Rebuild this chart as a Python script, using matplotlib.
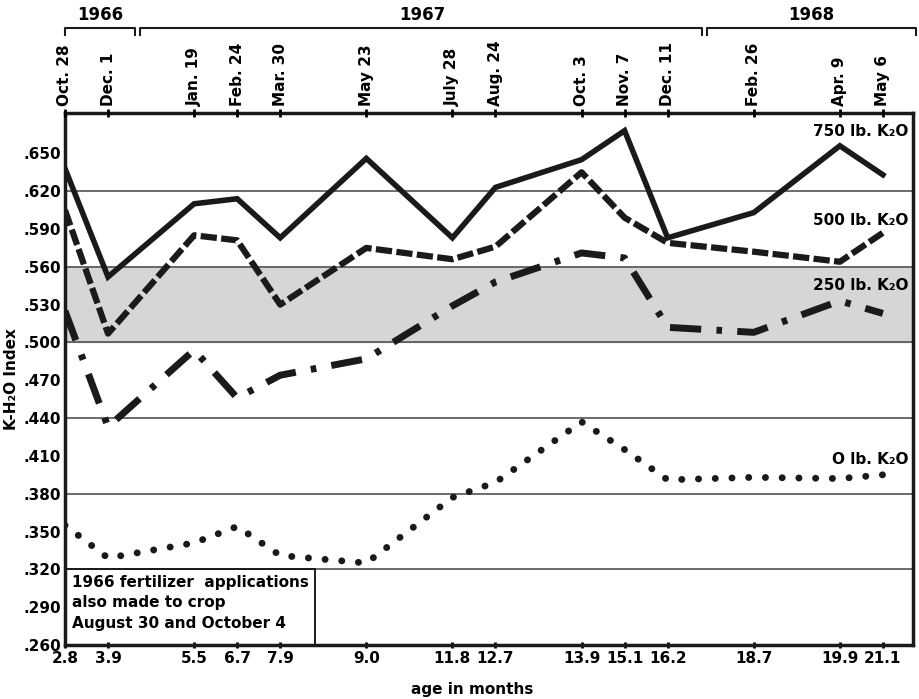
import matplotlib.pyplot as plt
from matplotlib.patches import Rectangle
from matplotlib.transforms import blended_transform_factory

# posiciones de muestreo (espaciado del original, no lineal en edad)
slots = [0, 1, 3, 4, 5, 7, 9, 10, 12, 13, 14, 16, 18, 19]
edad = ['2.8', '3.9', '5.5', '6.7', '7.9', '9.0', '11.8', '12.7',
        '13.9', '15.1', '16.2', '18.7', '19.9', '21.1']
fechas = ['Oct. 28', 'Dec. 1', 'Jan. 19', 'Feb. 24', 'Mar. 30', 'May 23',
          'July 28', 'Aug. 24', 'Oct. 3', 'Nov. 7', 'Dec. 11', 'Feb. 26',
          'Apr. 9', 'May 6']

k750 = [0.638, 0.552, 0.610, 0.614, 0.583, 0.646, 0.583, 0.623,
        0.645, 0.668, 0.583, 0.603, 0.656, 0.633]
k500 = [0.605, 0.507, 0.585, 0.581, 0.530, 0.575, 0.566, 0.576,
        0.635, 0.599, 0.579, 0.572, 0.564, 0.587]
k250 = [0.525, 0.433, 0.494, 0.456, 0.474, 0.487, 0.529, 0.548,
        0.571, 0.567, 0.512, 0.508, 0.533, 0.523]
k0 = [0.355, 0.329, 0.341, 0.354, 0.331, 0.325, 0.377, 0.389,
      0.437, 0.415, 0.391, 0.393, 0.392, 0.395]

anios = ['1966', '1967', '1968']
anios_desde = [0.0, 1.74, 14.91]
anios_hasta = [1.63, 14.80, 19.77]

FONT = 'DejaVu Sans'
plt.rcParams['font.family'] = FONT
plt.rcParams['font.weight'] = 'bold'

fig = plt.figure(figsize=(9.19, 6.99), dpi=100)
ax = fig.add_axes([0.0707, 0.0773, 0.9228, 0.761])
ax.set_xlim(0, 19.7)
ax.set_ylim(0.26, 0.682)

# banda sombreada y lineas horizontales
ax.axhspan(0.50, 0.56, color='#d6d6d6', zorder=0)
for g in [0.32, 0.38, 0.44, 0.50, 0.56, 0.62]:
    ax.axhline(g, color='#444444', lw=1.1, zorder=1)

ax.plot(slots, k750, color='#1a1a1a', lw=4, solid_joinstyle='miter', zorder=5)
ax.plot(slots, k500, color='#1a1a1a', lw=4.5, linestyle=(0, (2.6, 0.7)), zorder=4)
ax.plot(slots, k250, color='#1a1a1a', lw=5, linestyle=(0, (4.5, 2.2, 0.8, 2.2)), zorder=4)
ax.plot(slots, k0, color='#1a1a1a', lw=5, linestyle=(0, (0.01, 2.4)),
        dash_capstyle='round', zorder=4)

# etiquetas de las series
ax.text(19.6, 0.667, '750 lb. K₂O', ha='right', va='center', fontsize=11, fontweight='bold')
ax.text(19.6, 0.597, '500 lb. K₂O', ha='right', va='center', fontsize=11, fontweight='bold')
ax.text(19.6, 0.545, '250 lb. K₂O', ha='right', va='center', fontsize=11, fontweight='bold')
ax.text(19.6, 0.407, 'O lb. K₂O', ha='right', va='center', fontsize=11, fontweight='bold')

# recuadro de nota
ax.add_patch(Rectangle((0, 0.26), 5.81, 0.06, fill=False, edgecolor='#1a1a1a', lw=1.4, zorder=3))
ax.text(0.17, 0.3155, '1966 fertilizer  applications\nalso made to crop\nAugust 30 and October 4',
        ha='left', va='top', fontsize=11, fontweight='bold', linespacing=1.45, zorder=6)

# ejes
yt = [0.26 + 0.03 * i for i in range(14)]
ax.set_yticks(yt)
ax.set_yticklabels(['.%03d' % round(v * 1000) for v in yt], fontsize=11, fontweight='bold')
ax.tick_params(axis='y', length=0, pad=3)
ax.set_xticks(slots)
ax.set_xticklabels(edad, fontsize=11, fontweight='bold')
ax.tick_params(axis='x', length=5, width=2, direction='inout', pad=2)
ax.set_xlabel('age in months', fontsize=11, fontweight='bold', labelpad=4)
ax.xaxis.set_label_coords(0.48, -0.07)
ax.set_ylabel('K-H₂O Index', fontsize=11, fontweight='bold', labelpad=3)
for s in ax.spines.values():
    s.set_linewidth(2.5)
    s.set_color('#1a1a1a')

ax2 = ax.twiny()
ax2.set_xlim(ax.get_xlim())
ax2.set_xticks(slots)
ax2.set_xticklabels(fechas, rotation=90, fontsize=11, fontweight='bold')
ax2.tick_params(axis='x', length=6, width=2, direction='inout', pad=2)
for s in ax2.spines.values():
    s.set_visible(False)

# llaves de los anios
tr = blended_transform_factory(ax.transData, ax.transAxes)
for nombre, a, b in zip(anios, anios_desde, anios_hasta):
    ax.plot([a, a, b, b], [1.147, 1.160, 1.160, 1.147], color='#1a1a1a', lw=1.5,
            transform=tr, clip_on=False)
    ax.text((a + b) / 2 if nombre != '1967' else 8.3, 1.168, nombre, transform=tr,
            ha='center', va='bottom', fontsize=12, fontweight='bold')

fig.savefig('out.png', dpi=100)
